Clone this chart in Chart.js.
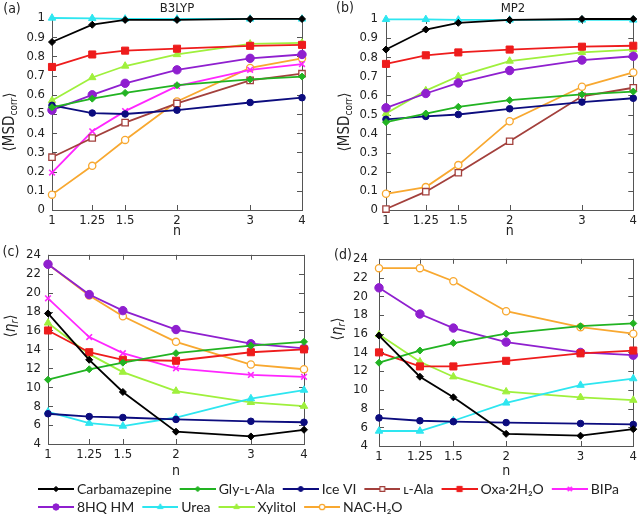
<!DOCTYPE html>
<html><head><meta charset="utf-8">
<script src="https://cdn.jsdelivr.net/npm/chart.js@4/dist/chart.umd.min.js"></script>
<style>
html,body{margin:0;padding:0;background:#fff}
body{width:640px;height:520px;position:relative;overflow:hidden}
canvas{position:absolute}
</style></head><body>
<canvas id="ca" width="320" height="240" style="left:0;top:0"></canvas>
<canvas id="cb" width="320" height="240" style="left:320px;top:0"></canvas>
<canvas id="cc" width="320" height="240" style="left:0;top:240px"></canvas>
<canvas id="cd" width="320" height="240" style="left:320px;top:240px"></canvas>
<canvas id="lg" width="640" height="110" style="left:0;top:476px"></canvas>
<script>
// ---------- data ----------
const nValues = [1, 1.25, 1.5, 2, 3, 4];
const nTicks = [1, 1.25, 1.5, 2, 3, 4];
const msdTicks = [0, 0.1, 0.2, 0.3, 0.4, 0.5, 0.6, 0.7, 0.8, 0.9, 1];
const etaTicks = [4, 6, 8, 10, 12, 14, 16, 18, 20, 22, 24];
const seriesNames = ['Carbamazepine', 'Gly-ʟ-Ala', 'Ice VI', 'ʟ-Ala', 'Oxa·2H₂O', 'BIPa', '8HQ HM', 'Urea', 'Xylitol', 'NAC·H₂O'];

// (a) B3LYP  <MSDcorr>
const msdB3LYP_Carbamazepine = [0.875, 0.965, 0.99, 0.99, 0.995, 0.995];
const msdB3LYP_GlyLAla       = [0.535, 0.58, 0.61, 0.65, 0.68, 0.695];
const msdB3LYP_IceVI         = [0.545, 0.505, 0.50, 0.52, 0.56, 0.585];
const msdB3LYP_LAla          = [0.275, 0.375, 0.455, 0.555, 0.675, 0.71];
const msdB3LYP_Oxa           = [0.745, 0.81, 0.83, 0.84, 0.855, 0.86];
const msdB3LYP_BIPa          = [0.195, 0.41, 0.515, 0.645, 0.73, 0.76];
const msdB3LYP_8HQ           = [0.52, 0.60, 0.66, 0.73, 0.79, 0.81];
const msdB3LYP_Urea          = [1.0, 0.998, 0.995, 0.995, 0.995, 0.995];
const msdB3LYP_Xylitol       = [0.57, 0.69, 0.75, 0.81, 0.865, 0.87];
const msdB3LYP_NAC           = [0.08, 0.23, 0.365, 0.565, 0.74, 0.79];

// (b) MP2  <MSDcorr>
const msdMP2_Carbamazepine = [0.84, 0.945, 0.98, 0.995, 1.0, 1.0];
const msdMP2_GlyLAla       = [0.46, 0.505, 0.54, 0.575, 0.605, 0.62];
const msdMP2_IceVI         = [0.475, 0.49, 0.50, 0.53, 0.565, 0.585];
const msdMP2_LAla          = [0.005, 0.096, 0.195, 0.36, 0.595, 0.64];
const msdMP2_Oxa           = [0.765, 0.81, 0.825, 0.84, 0.855, 0.86];
const msdMP2_8HQ           = [0.535, 0.61, 0.665, 0.73, 0.785, 0.805];
const msdMP2_Urea          = [0.998, 0.998, 0.995, 0.995, 0.995, 0.995];
const msdMP2_Xylitol       = [0.505, 0.625, 0.70, 0.78, 0.825, 0.84];
const msdMP2_NAC           = [0.085, 0.12, 0.235, 0.465, 0.645, 0.72];

// (c) B3LYP  <eta_r>
const etaB3LYP_Carbamazepine = [17.8, 12.9, 9.5, 5.3, 4.8, 5.5];
const etaB3LYP_GlyLAla       = [10.8, 11.9, 12.6, 13.6, 14.4, 14.8];
const etaB3LYP_IceVI         = [7.2, 6.9, 6.8, 6.6, 6.4, 6.3];
const etaB3LYP_Oxa           = [16.0, 13.7, 12.9, 12.8, 13.7, 14.0];
const etaB3LYP_BIPa          = [19.4, 15.3, 13.6, 12.0, 11.3, 11.1];
const etaB3LYP_8HQ           = [23.0, 19.8, 18.1, 16.1, 14.6, 14.1];
const etaB3LYP_Urea          = [7.4, 6.2, 5.9, 6.8, 8.8, 9.7];
const etaB3LYP_Xylitol       = [16.8, 13.5, 11.6, 9.6, 8.4, 8.0];
const etaB3LYP_NAC           = [23.0, 19.7, 17.5, 14.8, 12.4, 11.9];

// (d) MP2  <eta_r>
const etaMP2_Carbamazepine = [15.8, 11.4, 9.2, 5.3, 5.1, 5.8];
const etaMP2_GlyLAla       = [12.9, 14.2, 15.0, 16.0, 16.8, 17.1];
const etaMP2_IceVI         = [7.0, 6.7, 6.6, 6.5, 6.4, 6.3];
const etaMP2_Oxa           = [14.0, 12.5, 12.5, 13.1, 13.9, 14.2];
const etaMP2_8HQ           = [20.9, 18.1, 16.6, 15.1, 14.0, 13.7];
const etaMP2_Urea          = [5.6, 5.6, 6.7, 8.6, 10.5, 11.2];
const etaMP2_Xylitol       = [15.9, 13.0, 11.4, 9.8, 9.2, 8.9];
const etaMP2_NAC           = [23.0, 23.0, 21.6, 18.4, 16.7, 16.0];

// ---------- styles ----------
const styles = {
  'Carbamazepine': {color:'#000000', shape:'rectRot', r:3.5},
  'Gly-ʟ-Ala':     {color:'#22b322', shape:'rectRot', r:3.5},
  'Ice VI':        {color:'#0c0c7e', shape:'circle', r:3.3},
  'ʟ-Ala':         {color:'#a3403c', shape:'rect', r:4.5, fill:'#ffffff', bw:1.3},
  'Oxa·2H₂O':      {color:'#ee1c1c', shape:'rect', r:5},
  'BIPa':          {color:'#ff26ff', shape:'crossRot', r:4, bw:1.6},
  '8HQ HM':        {color:'#8f1fcf', shape:'circle', r:4.2},
  'Urea':          {color:'#2ee6f0', shape:'triangle', r:4.3},
  'Xylitol':       {color:'#9ff03c', shape:'triangle', r:4.3},
  'NAC·H₂O':       {color:'#f8a830', shape:'circle', r:3.6, fill:'#ffffff', bw:1.3}
};
const FONT = "'DejaVu Sans Condensed','DejaVu Sans',sans-serif";
const LFONT = "Lato,'Liberation Sans',sans-serif";
const TXT = '#222';

// ---------- plugins ----------
const framePlugin = {
  id: 'frame',
  beforeDatasetsDraw(chart) {
    const {ctx, chartArea: a, scales} = chart;
    ctx.save();
    ctx.strokeStyle = '#555'; ctx.lineWidth = 1;
    ctx.strokeRect(Math.round(a.left)+0.5, Math.round(a.top)+0.5, Math.round(a.right-a.left), Math.round(a.bottom-a.top));
    ctx.beginPath();
    scales.x.ticks.forEach(t => {
      const x = Math.round(scales.x.getPixelForValue(t.value)) + 0.5;
      ctx.moveTo(x, a.bottom); ctx.lineTo(x, a.bottom - 5);
      ctx.moveTo(x, a.top); ctx.lineTo(x, a.top + 5);
    });
    scales.y.ticks.forEach(t => {
      const y = Math.round(scales.y.getPixelForValue(t.value)) + 0.5;
      ctx.moveTo(a.left, y); ctx.lineTo(a.left + 5, y);
      ctx.moveTo(a.right, y); ctx.lineTo(a.right - 5, y);
    });
    ctx.stroke();
    ctx.restore();
  }
};
const decoPlugin = {
  id: 'panelDeco',
  afterDraw(chart, args, o) {
    const ctx = chart.ctx;
    ctx.save();
    ctx.fillStyle = TXT; ctx.textBaseline = 'middle'; ctx.textAlign = 'center';
    ctx.font = `14px ${FONT}`;
    ctx.fillText(o.label, o.lx, o.ly);
    if (o.title) { ctx.font = `13px ${FONT}`; ctx.fillText(o.title, o.tx, o.ty); }
    ctx.translate(o.yx, o.yy); ctx.rotate(-Math.PI/2);
    const segs = o.ytitle.map(s => Object.assign({}, s));
    let total = 0;
    segs.forEach(s => { ctx.font = `${s.italic?'italic ':''}${s.size}px ${FONT}`; s.w = ctx.measureText(s.t).width; total += s.w; });
    let x = -total/2; ctx.textAlign = 'left';
    segs.forEach(s => { ctx.font = `${s.italic?'italic ':''}${s.size}px ${FONT}`; ctx.fillText(s.t, x, s.dy || 0); x += s.w; });
    ctx.restore();
  }
};

const msdTitle = [{t:'⟨MSD', size:15}, {t:'corr', size:10, dy:4}, {t:'⟩', size:15}];
const etaTitle = [{t:'⟨', size:15}, {t:'η', size:15, italic:true}, {t:'r', size:10, dy:4, italic:true}, {t:'⟩', size:15}];

function makeDataset(name, arr) {
  const st = styles[name];
  const fill = st.fill || st.color;
  return {
    label: name,
    data: nValues.map((x, i) => ({x: x, y: arr[i]})),
    borderColor: st.color, backgroundColor: fill,
    pointStyle: st.shape, pointRadius: st.r, pointHoverRadius: st.r,
    pointBorderColor: st.color, pointBackgroundColor: fill,
    pointBorderWidth: st.bw || 1, borderWidth: 1.8, tension: 0, clip: false
  };
}

function makePanel(id, series, cfg) {
  new Chart(document.getElementById(id), {
    type: 'line',
    data: {datasets: series.map(s => makeDataset(s[0], s[1]))},
    options: {
      responsive: false, animation: false, events: [],
      layout: {padding: {top: cfg.top, right: cfg.right, left: 0, bottom: 0}},
      plugins: {legend: {display: false}, tooltip: {enabled: false}, panelDeco: cfg.deco},
      scales: {
        x: {
          type: 'logarithmic', min: 1, max: 4,
          afterBuildTicks: s => { s.ticks = nTicks.map(v => ({value: v})); },
          afterFit: s => { s.height = cfg.xh; },
          grid: {display: false, drawTicks: false}, border: {display: false},
          ticks: {callback: v => String(v), font: {family: FONT, size: 13}, color: TXT, padding: 3, maxRotation: 0, autoSkip: false},
          title: {display: true, text: 'n', font: {family: FONT, size: 14}, color: TXT, padding: 0}
        },
        y: {
          type: 'linear', min: cfg.ymin, max: cfg.ymax,
          afterBuildTicks: s => { s.ticks = cfg.yticks.map(v => ({value: v})); },
          afterFit: s => { s.width = cfg.yw; },
          grid: {display: false, drawTicks: false}, border: {display: false},
          ticks: {callback: v => String(+(+v).toFixed(1)), font: {family: FONT, size: 13}, color: TXT, padding: cfg.ypad, autoSkip: false}
        }
      }
    },
    plugins: [framePlugin, decoPlugin]
  });
}

makePanel('ca', [
  ['Carbamazepine', msdB3LYP_Carbamazepine], ['Gly-ʟ-Ala', msdB3LYP_GlyLAla], ['Ice VI', msdB3LYP_IceVI],
  ['ʟ-Ala', msdB3LYP_LAla], ['Oxa·2H₂O', msdB3LYP_Oxa], ['BIPa', msdB3LYP_BIPa], ['8HQ HM', msdB3LYP_8HQ],
  ['Urea', msdB3LYP_Urea], ['Xylitol', msdB3LYP_Xylitol], ['NAC·H₂O', msdB3LYP_NAC]
], {top: 18, right: 18, xh: 30, yw: 52, ypad: 7, ymin: 0, ymax: 1, yticks: msdTicks,
    deco: {label: '(a)', lx: 12, ly: 9, title: 'B3LYP', tx: 177, ty: 9, yx: 10, yy: 122, ytitle: msdTitle}});

makePanel('cb', [
  ['Carbamazepine', msdMP2_Carbamazepine], ['Gly-ʟ-Ala', msdMP2_GlyLAla], ['Ice VI', msdMP2_IceVI],
  ['ʟ-Ala', msdMP2_LAla], ['Oxa·2H₂O', msdMP2_Oxa], ['8HQ HM', msdMP2_8HQ],
  ['Urea', msdMP2_Urea], ['Xylitol', msdMP2_Xylitol], ['NAC·H₂O', msdMP2_NAC]
], {top: 19, right: 4, xh: 30, yw: 66, ypad: 8, ymin: 0, ymax: 1, yticks: msdTicks,
    deco: {label: '(b)', lx: 25, ly: 8, title: 'MP2', tx: 193, ty: 9, yx: 25, yy: 122, ytitle: msdTitle}});

makePanel('cc', [
  ['Carbamazepine', etaB3LYP_Carbamazepine], ['Gly-ʟ-Ala', etaB3LYP_GlyLAla], ['Ice VI', etaB3LYP_IceVI],
  ['Oxa·2H₂O', etaB3LYP_Oxa], ['BIPa', etaB3LYP_BIPa], ['8HQ HM', etaB3LYP_8HQ],
  ['Urea', etaB3LYP_Urea], ['Xylitol', etaB3LYP_Xylitol], ['NAC·H₂O', etaB3LYP_NAC]
], {top: 13, right: 16, xh: 36, yw: 48, ypad: 7, ymin: 4, ymax: 24, yticks: etaTicks,
    deco: {label: '(c)', lx: 11, ly: 12, title: '', yx: 11, yy: 86, ytitle: etaTitle}});

makePanel('cd', [
  ['Carbamazepine', etaMP2_Carbamazepine], ['Gly-ʟ-Ala', etaMP2_GlyLAla], ['Ice VI', etaMP2_IceVI],
  ['Oxa·2H₂O', etaMP2_Oxa], ['8HQ HM', etaMP2_8HQ],
  ['Urea', etaMP2_Urea], ['Xylitol', etaMP2_Xylitol], ['NAC·H₂O', etaMP2_NAC]
], {top: 13, right: 4, xh: 34, yw: 59, ypad: 11, ymin: 4, ymax: 24, yticks: etaTicks,
    deco: {label: '(d)', lx: 23, ly: 15, title: '', yx: 18, yy: 89, ytitle: etaTitle}});

// ---------- legend ----------
function drawMarker(ctx, shape, x, y, r, stroke, fill, bw) {
  ctx.save();
  ctx.strokeStyle = stroke; ctx.fillStyle = fill; ctx.lineWidth = bw;
  ctx.beginPath();
  if (shape === 'circle') { ctx.arc(x, y, r, 0, Math.PI*2); }
  else if (shape === 'rect') { const s = r*Math.SQRT1_2; ctx.rect(x-s, y-s, 2*s, 2*s); }
  else if (shape === 'rectRot') { ctx.moveTo(x, y-r); ctx.lineTo(x+r, y); ctx.lineTo(x, y+r); ctx.lineTo(x-r, y); ctx.closePath(); }
  else if (shape === 'triangle') { ctx.moveTo(x, y-r); ctx.lineTo(x+r*0.866, y+r*0.5); ctx.lineTo(x-r*0.866, y+r*0.5); ctx.closePath(); }
  else if (shape === 'crossRot') { const s = r*0.7; ctx.moveTo(x-s,y-s); ctx.lineTo(x+s,y+s); ctx.moveTo(x+s,y-s); ctx.lineTo(x-s,y+s); }
  if (shape !== 'crossRot') ctx.fill();
  ctx.stroke();
  ctx.restore();
}
const icons = seriesNames.map(n => {
  const st = styles[n];
  const c = document.createElement('canvas');
  c.width = 44; c.height = 12;
  const g = c.getContext('2d');
  g.strokeStyle = st.color; g.lineWidth = 1.8;
  g.beginPath(); g.moveTo(8, 6); g.lineTo(44, 6); g.stroke();
  drawMarker(g, st.shape, 26, 6, st.r*0.75, st.color, st.fill || st.color, st.bw || 1);
  return c;
});
new Chart(document.getElementById('lg'), {
  type: 'line',
  data: {datasets: seriesNames.map(n => ({label: n, data: []}))},
  options: {
    responsive: false, animation: false, events: [],
    layout: {padding: {left: 30, top: 2, right: 0}},
    scales: {x: {display: false}, y: {display: false}},
    plugins: {
      tooltip: {enabled: false},
      legend: {
        display: true, position: 'top', align: 'start',
        labels: {
          usePointStyle: true, pointStyleWidth: 36, padding: 4,
          font: {family: LFONT, size: 14}, color: TXT,
          generateLabels: chart => seriesNames.map((n, i) => ({
            text: n, pointStyle: icons[i], fillStyle: 'rgba(0,0,0,0)', strokeStyle: 'rgba(0,0,0,0)',
            lineWidth: 0, hidden: false, datasetIndex: i, fontColor: TXT
          }))
        }
      }
    }
  }
});
</script>
</body></html>
